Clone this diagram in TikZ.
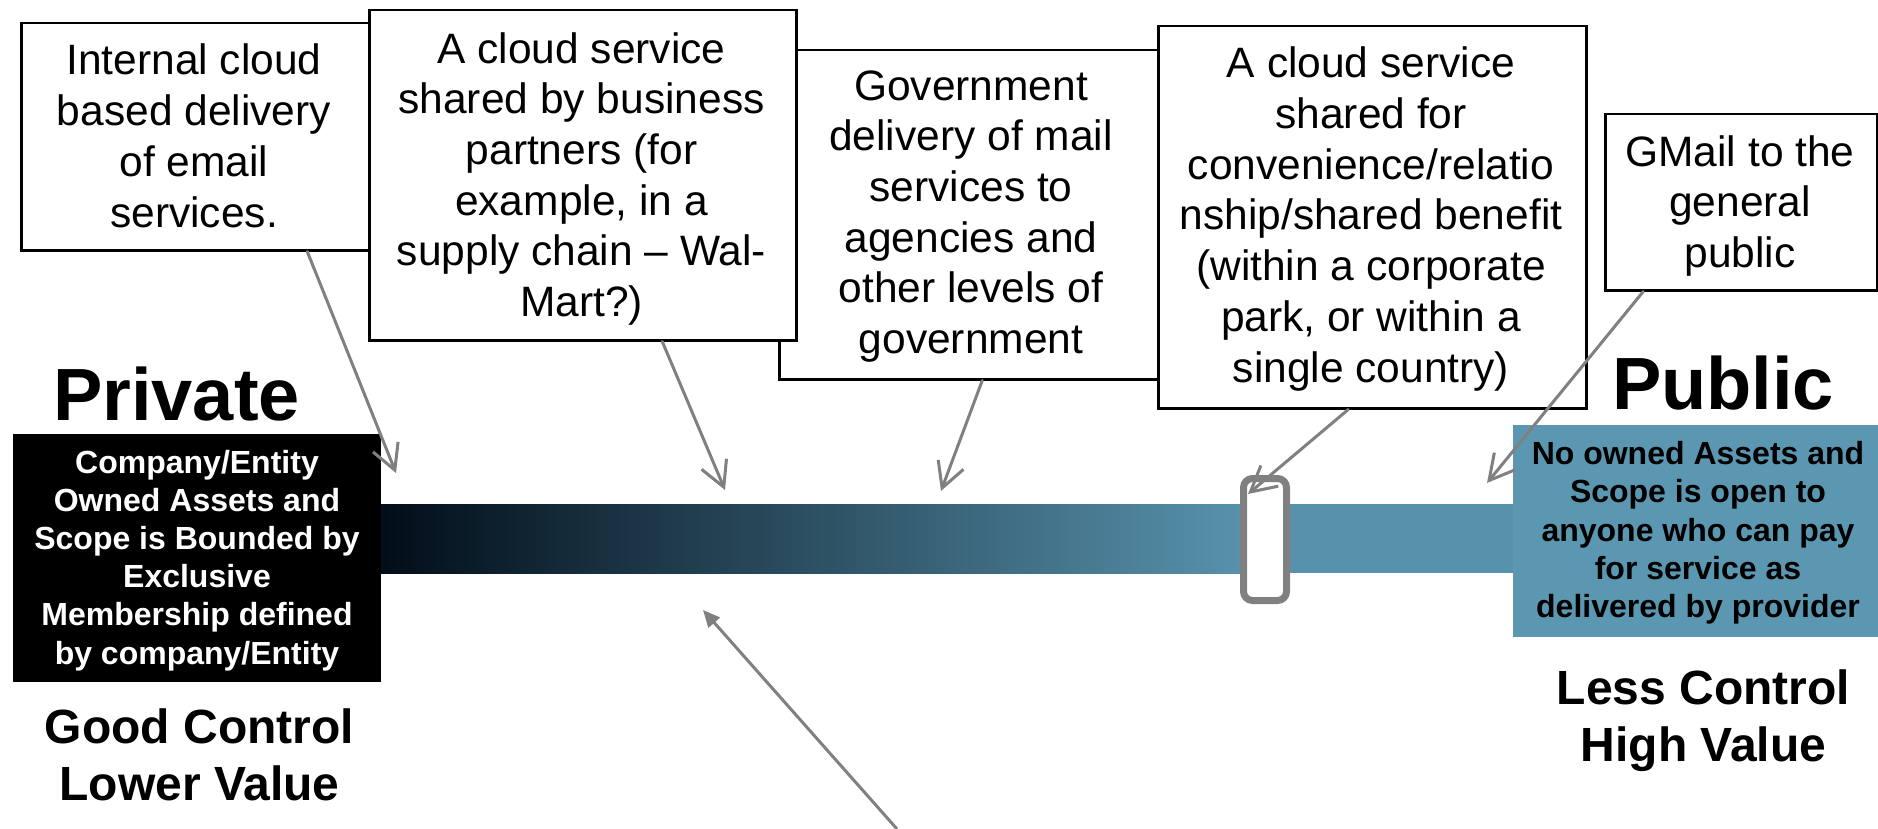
\documentclass[tikz,border=0pt]{standalone}
\usepackage{fontspec}
\setmainfont{Liberation Sans}
\usetikzlibrary{arrows.meta}
\definecolor{linegray}{HTML}{808080}
\definecolor{pubblue}{HTML}{5B97B1}
\definecolor{barL}{HTML}{020E19}
\definecolor{barR}{HTML}{5791AB}
\tikzset{
  frame/.style={draw=black, line width=2.5pt, fill=white, inner sep=0pt, anchor=north west},
  solidbox/.style={inner sep=0pt, anchor=north west},
  boxtext/.style={anchor=base, align=center, inner sep=0pt, font=\fontsize{42.5}{50.7}\selectfont},
  boldtext/.style={anchor=base, align=center, inner sep=0pt, font=\bfseries\fontsize{32}{38.2}\selectfont},
  headtext/.style={anchor=base, inner sep=0pt, font=\bfseries\fontsize{74}{88}\selectfont},
  subtext/.style={anchor=base, align=center, inner sep=0pt, font=\bfseries\fontsize{48}{57}\selectfont},
  callout/.style={draw=linegray, line width=3pt, line cap=round, line join=round, -{Straight Barb[length=25pt,width=27pt]}},
  pointer/.style={draw=linegray, line width=3pt, -{Triangle[length=17pt,width=15pt]}},
  slotbox/.style={draw=linegray, line width=7pt, fill=white, rounded corners=9pt, inner sep=0pt},
}
\begin{document}
\begin{tikzpicture}[x=1pt,y=-1pt]
\useasboundingbox (0,0) rectangle (1878,829);

% bar
\shade[left color=barL, right color=barR] (381,504) rectangle (1240,573);
\fill[barR] (1239,504) rectangle (1514,573);

% end boxes
\node[solidbox, fill=black, minimum width=368pt, minimum height=248pt] (priv) at (13,434) {};
\node[solidbox, fill=pubblue, minimum width=365pt, minimum height=212pt] (pub) at (1513,425) {};
\node[boldtext, text=white] (privtext) at (197,664) {Company/Entity\\Owned Assets and\\Scope is Bounded by\\Exclusive\\Membership defined\\by company/Entity};
\node[boldtext, text=black] (pubtext) at (1698,617.5) {No owned Assets and\\Scope is open to\\anyone who can pay\\for service as\\delivered by provider};

% marker on the bar
\node[slotbox, minimum width=43pt, minimum height=122pt] (slot) at (1265,539.5) {};

% callout boxes
\node[frame, minimum width=348pt, minimum height=227pt] (b1) at (20,22) {};
\node[frame, minimum width=379pt, minimum height=329pt] (b3) at (778,49) {};
\node[frame, minimum width=427pt, minimum height=330pt] (b2) at (368,9) {};
\node[frame, minimum width=428pt, minimum height=382pt] (b4) at (1157,25) {};
\node[frame, minimum width=272pt, minimum height=176pt] (b5) at (1604,113) {};

\node[boxtext] (t1) at (194,227) {Internal cloud\\based delivery\\of email\\services.};
\node[boxtext] (t2) at (581.5,316.5) {A cloud service\\shared by business\\partners (for\\example, in a\\supply chain – Wal-\\Mart?)};
\node[boxtext] (t3) at (971,353.5) {Government\\delivery of mail\\services to\\agencies and\\other levels of\\government};
\node[boxtext] (t4) at (1371,382) {A cloud service\\shared for\\convenience/relatio\\nship/shared benefit\\(within a corporate\\park, or within a\\single country)};
\node[boxtext] (t5) at (1740,267.5) {GMail to the\\general\\public};

% headings
\node[headtext] (hpriv) at (176.5,420) {Private};
\node[headtext] (hpub) at (1723,409) {Public};
\node[subtext] (lpriv) at (199.5,800) {Good Control\\Lower Value};
\node[subtext] (lpub) at (1703.5,761) {Less Control\\High Value};

% arrow ends
\coordinate (tip1) at (396,473);
\coordinate (tip2) at (725,490);
\coordinate (tip3) at (941,491);
\coordinate (tip4) at (1248,494);
\coordinate (tip5) at (1487,483);
\coordinate (tail6) at (897,829);
\coordinate (tip6) at (703,610);

\draw[callout] ([xshift=112pt]b1.south) -- (tip1);
\draw[callout] ([xshift=79.5pt]b2.south) -- (tip2);
\draw[callout] ([xshift=13.5pt]b3.south) -- (tip3);
\draw[callout] ([xshift=-24pt]b4.south) -- (tip4);
\draw[callout] ([xshift=-98pt]b5.south) -- (tip5);
\draw[pointer] (tail6) -- (tip6);
\end{tikzpicture}
\end{document}
